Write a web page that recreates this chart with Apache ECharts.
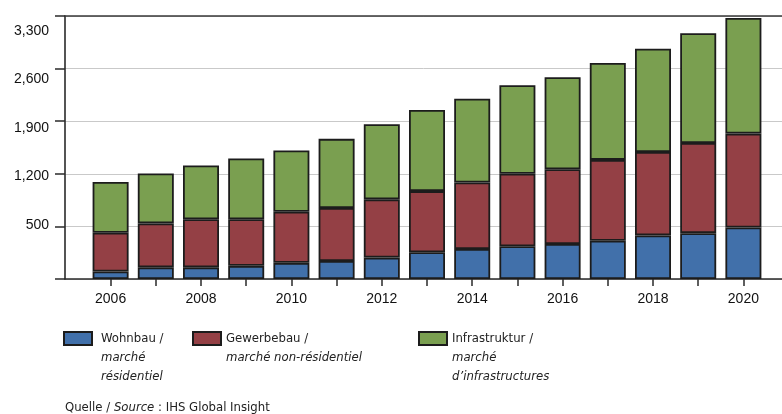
<!DOCTYPE html>
<html>
<head>
<meta charset="utf-8">
<script src="https://cdn.jsdelivr.net/npm/echarts@6/dist/echarts.min.js"></script>
<style>
  html, body { margin: 0; padding: 0; background: #ffffff; }
  #chart { width: 782px; height: 414px; }
</style>
</head>
<body>
<div id="chart"></div>
<script>
// Construction market volume by segment, 2006–2020
const years = ['2006', '2007', '2008', '2009', '2010', '2011', '2012', '2013', '2014', '2015', '2016', '2017', '2018', '2019', '2020'];
const wohnbau       = [100, 155, 155, 175, 215, 240, 285, 355, 400, 435, 465, 510, 580, 610, 685];
const gewerbebau    = [515, 585, 640, 620, 680, 705, 775, 815, 885, 965, 995, 1075, 1110, 1200, 1250];
const infrastruktur = [675, 665, 715, 810, 815, 920, 1000, 1080, 1115, 1180, 1225, 1290, 1375, 1460, 1540];

// Printed value-axis labels
const yTickValues = [500, 1200, 1900, 2600, 3300];
const yTickLabels = ['500', '1,200', '1,900', '2,600', '3,300'];

// Legend texts (German / French)
const seriesNames = ['Wohnbau /', 'Gewerbebau /', 'Infrastruktur /'];
const seriesSubNames = [['marché', 'résidentiel'], ['marché non-résidentiel'], ['marché', 'd’infrastructures']];
const seriesColors = ['#4170aa', '#944045', '#7a9f50'];
const seriesData = [wohnbau, gewerbebau, infrastruktur];

const narrow = '"Liberation Sans Narrow", "Arial Narrow", "DejaVu Sans Condensed", sans-serif';
const sans = '"Liberation Sans", Arial, Helvetica, sans-serif';
const ink = '#2a2a2a';
const noteSize = 13;

function legendFor(i, left, top) {
  const n = seriesSubNames[i].length;
  return {
    data: [seriesNames[i]],
    left: left,
    top: top,
    padding: 0,
    icon: 'rect',
    itemWidth: 28,
    itemHeight: 13,
    selectedMode: false,
    formatter: name => [name].concat(seriesSubNames[i].map(s => '{it|' + s + '}')).join('\n'),
    textStyle: {
      fontFamily: narrow,
      fontSize: noteSize,
      color: '#222',
      lineHeight: 19,
      padding: [19 * n, 0, 0, i === 0 ? 4 : 0],
      rich: {
        it: { fontFamily: narrow, fontStyle: 'italic', fontSize: noteSize, lineHeight: 19, color: '#222' }
      }
    }
  };
}

const chart = echarts.init(document.getElementById('chart'), null, { renderer: 'canvas' });

chart.setOption({
  animation: false,
  backgroundColor: '#ffffff',
  grid: [
    // bars
    { left: 88, width: 678, top: 16, height: 263, containLabel: false },
    // frame, grid lines and value labels
    { left: 65, right: 0, top: 16, height: 263, containLabel: false }
  ],
  title: {
    text: 'Quelle / {it|Source} : IHS Global Insight',
    left: 65,
    top: 399,
    padding: 0,
    textStyle: {
      fontFamily: narrow,
      fontSize: noteSize,
      fontWeight: 'normal',
      color: '#222',
      lineHeight: 18,
      rich: {
        it: { fontFamily: narrow, fontStyle: 'italic', fontSize: noteSize, lineHeight: 18, color: '#222' }
      }
    }
  },
  legend: [
    legendFor(0, 63, 291),
    legendFor(1, 192, 310),
    legendFor(2, 418, 291)
  ],
  xAxis: [
    {
      gridIndex: 0,
      type: 'category',
      data: years,
      boundaryGap: true,
      axisLine: { show: false },
      axisTick: { show: true, alignWithLabel: true, interval: 0, length: 7, lineStyle: { color: ink, width: 1.5 } },
      axisLabel: { interval: 1, margin: 13, fontFamily: sans, fontSize: 14, color: '#111' },
      splitLine: { show: false }
    },
    {
      // baseline
      gridIndex: 1,
      type: 'value',
      min: 0,
      max: 1,
      axisLine: { show: true, onZero: false, lineStyle: { color: ink, width: 1.6 } },
      axisTick: { show: false },
      axisLabel: { show: false },
      splitLine: { show: false }
    },
    {
      // top frame line
      gridIndex: 1,
      type: 'value',
      position: 'top',
      min: 0,
      max: 1,
      axisLine: { show: true, onZero: false, lineStyle: { color: '#3a3a3a', width: 1.5 } },
      axisTick: { show: false },
      axisLabel: { show: false },
      splitLine: { show: false }
    }
  ],
  yAxis: [
    {
      gridIndex: 0,
      type: 'value',
      min: 0,
      max: 3500,
      show: false
    },
    {
      gridIndex: 1,
      type: 'value',
      min: 0,
      max: 3500,
      interval: 700,
      position: 'left',
      axisLine: { show: true, onZero: false, lineStyle: { color: ink, width: 1.6 } },
      axisTick: { show: true, length: 10, lineStyle: { color: ink, width: 1.5 } },
      axisLabel: { show: false },
      splitLine: { show: true, lineStyle: { color: '#c9c9c9', width: 1 } }
    },
    {
      // printed value labels
      gridIndex: 1,
      type: 'value',
      min: -282,
      max: 3512,
      position: 'left',
      axisLine: { show: false },
      axisTick: { show: false },
      splitLine: { show: false },
      axisLabel: {
        customValues: yTickValues,
        margin: 16,
        fontFamily: sans,
        fontSize: 14,
        color: '#111',
        formatter: v => yTickLabels[yTickValues.indexOf(v)]
      }
    }
  ],
  series: seriesNames.map((name, i) => ({
    name: name,
    type: 'bar',
    stack: 'total',
    xAxisIndex: 0,
    yAxisIndex: 0,
    barWidth: 36,
    itemStyle: { color: seriesColors[i], borderColor: '#1c1c1c', borderWidth: 1.8 },
    emphasis: { disabled: true },
    data: seriesData[i]
  }))
});
</script>
</body>
</html>
